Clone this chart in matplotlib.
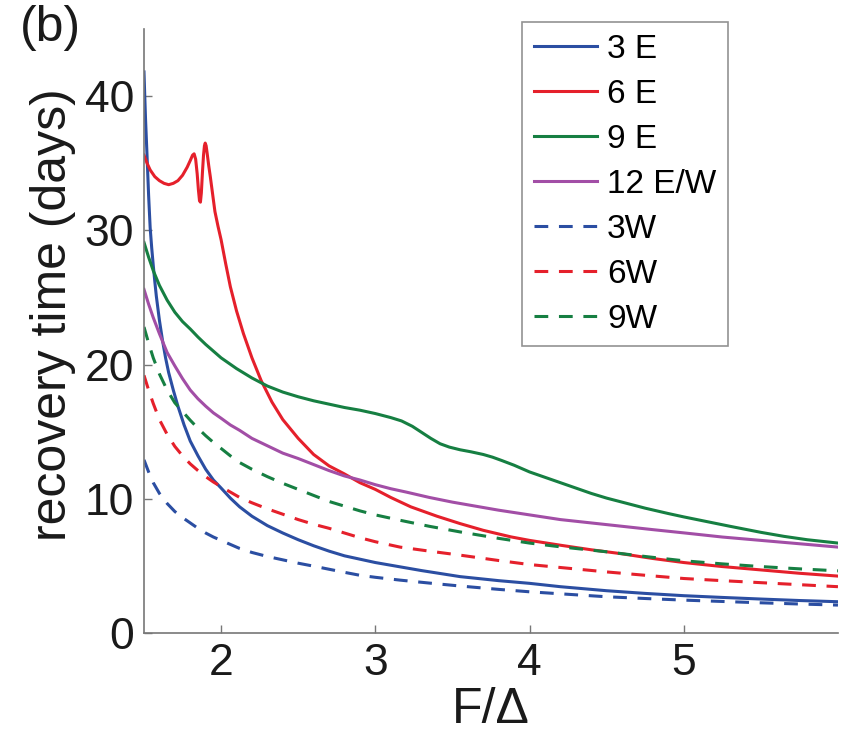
import matplotlib
matplotlib.use("Agg")
import matplotlib.pyplot as plt

plt.rcParams["font.family"] = ["Liberation Sans", "DejaVu Sans"]

# recovery time vs F/Delta, east (E) and west (W) cases
x_3e = [1.5, 1.505, 1.51, 1.52, 1.53, 1.54, 1.55, 1.56, 1.57, 1.58, 1.59, 1.6, 1.62,
        1.64, 1.66, 1.69, 1.72, 1.76, 1.8, 1.85, 1.9, 1.95, 2.0, 2.06, 2.12, 2.2,
        2.3, 2.4, 2.5, 2.6, 2.7, 2.8, 2.9, 3.0, 3.15, 3.3, 3.55, 3.8, 4.0, 4.2, 4.5,
        4.75, 5.0, 5.25, 5.5, 5.75, 6.0]
y_3e = [41.8, 40.0, 38.3, 35.5, 32.6, 30.2, 28.7, 27.4, 26.2, 25.1, 24.2, 23.3, 21.8,
        20.5, 19.4, 18.1, 16.9, 15.5, 14.3, 13.2, 12.2, 11.4, 10.8, 10.05, 9.4, 8.7,
        8.0, 7.45, 6.95, 6.5, 6.1, 5.75, 5.5, 5.25, 4.95, 4.65, 4.2, 3.9, 3.7, 3.45,
        3.15, 2.95, 2.78, 2.65, 2.53, 2.42, 2.33]

x_6e = [1.5, 1.52, 1.54, 1.57, 1.6, 1.63, 1.66, 1.69, 1.72, 1.75, 1.78, 1.80, 1.815,
        1.825, 1.835, 1.845, 1.853, 1.86, 1.866, 1.872, 1.879, 1.886, 1.892, 1.897,
        1.903, 1.91, 1.92, 1.93, 1.945, 1.96, 1.98, 2.0, 2.03, 2.06, 2.1, 2.145, 2.2,
        2.26, 2.33, 2.4, 2.5, 2.6, 2.7, 2.8, 2.9, 3.0, 3.1, 3.23, 3.4, 3.55, 3.7,
        3.88, 4.0, 4.2, 4.4, 4.6, 4.8, 5.0, 5.25, 5.5, 5.75, 6.0]
y_6e = [35.6, 35.0, 34.5, 34.0, 33.7, 33.5, 33.4, 33.5, 33.7, 34.1, 34.7, 35.2, 35.6,
        35.7, 35.3, 34.2, 33.0, 32.2, 32.1, 32.8, 34.3, 35.6, 36.3, 36.5,
        36.3, 35.7, 34.8, 34.0, 32.7, 31.4, 30.3, 29.3, 27.5, 25.8, 24.0, 22.3, 20.5,
        18.8, 17.2, 15.9, 14.5, 13.3, 12.45, 11.85, 11.2, 10.7, 10.1, 9.4, 8.7, 8.15, 7.65,
        7.16, 6.9, 6.54, 6.2, 5.9, 5.55, 5.25, 4.95, 4.7, 4.45, 4.24]

x_9e = [1.5, 1.53, 1.56, 1.6, 1.65, 1.7, 1.75, 1.8, 1.85, 1.9, 1.95, 2.0, 2.1, 2.2,
        2.3, 2.4, 2.5, 2.6, 2.7, 2.8, 2.9, 3.0, 3.1, 3.17, 3.24, 3.3, 3.36, 3.42,
        3.48, 3.55, 3.62, 3.7, 3.76, 3.82, 3.9, 4.0, 4.1, 4.2, 4.3, 4.4, 4.5, 4.6,
        4.75, 4.9, 5.0, 5.15, 5.3, 5.5, 5.65, 5.8, 6.0]
y_9e = [29.1, 28.0, 27.0, 25.9, 24.8, 23.9, 23.2, 22.65, 22.05, 21.5, 21.0, 20.5, 19.7,
        19.0, 18.4, 17.95, 17.6, 17.3, 17.05, 16.8, 16.6, 16.35, 16.05, 15.8, 15.4,
        14.95, 14.5, 14.1, 13.85, 13.65, 13.5, 13.3, 13.1, 12.85, 12.5, 12.0, 11.6,
        11.2, 10.8, 10.4, 10.05, 9.75, 9.3, 8.9, 8.65, 8.3, 7.95, 7.5, 7.2, 6.95, 6.7]

x_12 = [1.5, 1.53, 1.56, 1.6, 1.65, 1.7, 1.75, 1.8, 1.85, 1.9, 1.95, 2.0, 2.06, 2.12,
        2.2, 2.3, 2.4, 2.5, 2.6, 2.7, 2.8, 2.9, 3.0, 3.1, 3.2, 3.35, 3.5, 3.65, 3.8,
        4.0, 4.2, 4.4, 4.6, 4.8, 5.0, 5.25, 5.5, 5.75, 6.0]
y_12 = [25.6, 24.5, 23.5, 22.3, 20.9, 19.9, 18.95, 18.1, 17.45, 16.9, 16.4, 16.0, 15.5,
        15.1, 14.5, 13.95, 13.4, 13.0, 12.55, 12.1, 11.7, 11.4, 11.05, 10.75, 10.5,
        10.1, 9.75, 9.45, 9.15, 8.8, 8.45, 8.2, 7.95, 7.7, 7.46, 7.15, 6.9, 6.65, 6.4]

x_3w = [1.5, 1.53, 1.56, 1.6, 1.65, 1.7, 1.75, 1.8, 1.85, 1.9, 1.95, 2.0, 2.06, 2.12,
        2.2, 2.3, 2.4, 2.5, 2.6, 2.7, 2.8, 2.9, 3.0, 3.16, 3.35, 3.55, 3.8, 4.0, 4.2,
        4.5, 4.75, 5.0, 5.25, 5.5, 5.75, 6.0]
y_3w = [12.9, 12.0, 11.2, 10.4, 9.65, 9.05, 8.6, 8.2, 7.8, 7.45, 7.15, 6.9, 6.6, 6.3,
        6.0, 5.7, 5.45, 5.2, 4.98, 4.75, 4.52, 4.3, 4.15, 3.94, 3.72, 3.5, 3.25, 3.07,
        2.92, 2.7, 2.57, 2.45, 2.35, 2.25, 2.16, 2.08]

x_6w = [1.5, 1.53, 1.56, 1.6, 1.65, 1.7, 1.75, 1.8, 1.85, 1.9, 1.95, 2.0, 2.06, 2.12,
        2.2, 2.3, 2.4, 2.5, 2.6, 2.7, 2.8, 2.9, 3.0, 3.16, 3.35, 3.55, 3.8, 4.0, 4.2,
        4.5, 4.75, 5.0, 5.25, 5.5, 5.75, 6.0]
y_6w = [19.2, 18.1, 17.1, 15.9, 14.8, 13.9, 13.2, 12.6, 12.1, 11.65, 11.25, 10.9, 10.5,
        10.1, 9.7, 9.25, 8.85, 8.45, 8.1, 7.8, 7.45, 7.1, 6.8, 6.4, 6.1, 5.8, 5.4, 5.1,
        4.88, 4.55, 4.3, 4.06, 3.9, 3.75, 3.6, 3.45]

x_9w = [1.5, 1.53, 1.56, 1.6, 1.65, 1.7, 1.75, 1.8, 1.85, 1.9, 1.95, 2.0, 2.06, 2.12,
        2.2, 2.3, 2.4, 2.5, 2.6, 2.7, 2.8, 2.9, 3.0, 3.16, 3.35, 3.55, 3.8, 4.0, 4.2,
        4.5, 4.75, 5.0, 5.25, 5.5, 5.75, 6.0]
y_9w = [22.8, 21.6, 20.5, 19.3, 18.1, 17.15, 16.5, 15.85, 15.25, 14.7, 14.2, 13.75,
        13.2, 12.7, 12.2, 11.65, 11.15, 10.7, 10.25, 9.8, 9.45, 9.1, 8.8, 8.4, 7.95,
        7.53, 7.05, 6.7, 6.42, 6.05, 5.7, 5.38, 5.15, 4.95, 4.78, 4.63]

labels = ["3 E", "6 E", "9 E", "12 E/W", "3W", "6W", "9W"]

blue = "#2b4ea2"
red = "#e5202b"
green = "#167f42"
purple = "#a24ea6"

fig = plt.figure(figsize=(8.46, 7.34), dpi=100)
ax = fig.add_axes([0.1702, 0.1376, 0.8203, 0.8229])

lw = 2.2
dash = (4.5, 3.5)
style = dict(lw=lw, solid_joinstyle="round", dash_joinstyle="round")
ax.plot(x_3e, y_3e, color=blue, label=labels[0], **style)
ax.plot(x_6e, y_6e, color=red, label=labels[1], **style)
ax.plot(x_9e, y_9e, color=green, label=labels[2], **style)
ax.plot(x_12, y_12, color=purple, label=labels[3], **style)
ax.plot(x_3w, y_3w, color=blue, ls=(0, dash), label=labels[4], **style)
ax.plot(x_6w, y_6w, color=red, ls=(0, dash), label=labels[5], **style)
ax.plot(x_9w, y_9w, color=green, ls=(0, dash), label=labels[6], **style)

ax.set_xlim(1.5, 6)
ax.set_ylim(0, 45)
ax.set_xticks([2, 3, 4, 5])
ax.set_yticks([0, 10, 20, 30, 40])

for side in ["top", "right"]:
    ax.spines[side].set_visible(False)
for side in ["left", "bottom"]:
    ax.spines[side].set_color("#777777")
    ax.spines[side].set_linewidth(1.2)
ax.tick_params(direction="in", length=6, width=1.0, color="#777777",
               labelsize=32, pad=7, labelcolor="#1a1a1a")

ax.set_xlabel("F/\u0394", fontsize=36, color="#1a1a1a", labelpad=2)
ax.set_ylabel("recovery time (days)", fontsize=36, color="#1a1a1a")
ax.yaxis.set_label_coords(-0.098, 0.527)

fig.text(0.024, 0.993, "(b)", fontsize=36, va="top", ha="left", color="#1a1a1a")

leg = ax.legend(loc="upper left", bbox_to_anchor=(522 / 846, 1 - 22 / 734),
                bbox_transform=fig.transFigure, fontsize=24, frameon=True,
                fancybox=False, handlelength=1.9, handletextpad=0.3,
                labelspacing=0.42, borderpad=0.35, borderaxespad=0)
leg.get_frame().set_edgecolor("#777777")
leg.get_frame().set_linewidth(1.2)

fig.savefig("out.png", dpi=100)
